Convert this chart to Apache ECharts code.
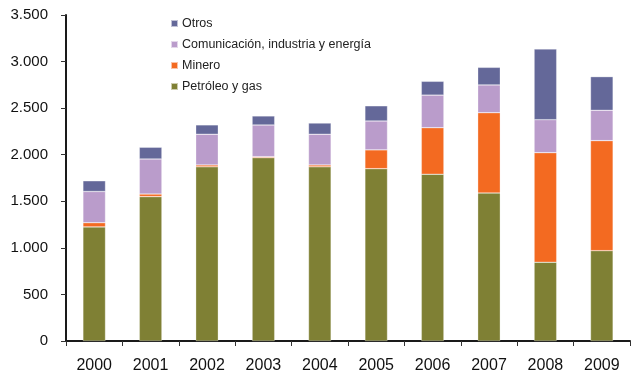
<!DOCTYPE html>
<html>
<head>
<meta charset="utf-8">
<script src="https://cdn.jsdelivr.net/npm/echarts@6/dist/echarts.min.js"></script>
<style>
  html, body { margin: 0; padding: 0; background: #fff; }
  #chart { width: 631px; height: 374px; }
</style>
</head>
<body>
<div id="chart"></div>
<script>
// Years on the category axis
const years = ['2000', '2001', '2002', '2003', '2004', '2005', '2006', '2007', '2008', '2009'];

// Stacked components per year
const petroleoGas = [1225, 1550, 1870, 1968, 1870, 1850, 1790, 1589, 845, 970];
const minero      = [45, 28, 20, 11, 20, 202, 500, 862, 1177, 1181];
const comunicacion = [335, 376, 330, 340, 330, 310, 350, 298, 354, 326];
const otros       = [115, 126, 100, 97, 120, 163, 148, 189, 759, 361];

// Value axis ticks
const yTicks = [0, 500, 1000, 1500, 2000, 2500, 3000, 3500];

const names = {
  petro: 'Petróleo y gas',
  min: 'Minero',
  com: 'Comunicación, industria y energía',
  otros: 'Otros'
};

const FONT = 'Liberation Sans, Arial, sans-serif';
const fmt = v => String(v).replace(/\B(?=(\d{3})+(?!\d))/g, '.');

function bar(name, data, color) {
  return {
    name: name,
    type: 'bar',
    stack: 'total',
    data: data,
    barWidth: '40%',
    itemStyle: { color: color, borderColor: 'rgba(255,255,255,0.6)', borderWidth: 0.5 },
    emphasis: { disabled: true }
  };
}

const chart = echarts.init(document.getElementById('chart'), null, { renderer: 'canvas' });
chart.setOption({
  animation: false,
  backgroundColor: '#ffffff',
  textStyle: { fontFamily: FONT },
  grid: { left: 66, right: 1, top: 15, bottom: 33, containLabel: false },
  legend: {
    orient: 'vertical',
    left: 165,
    top: 12,
    itemWidth: 7,
    itemHeight: 7,
    itemGap: 8,
    icon: 'rect',
    textStyle: { fontFamily: FONT, fontSize: 12.5, color: '#222', padding: [0, 0, 0, -1] },
    data: [names.otros, names.com, names.min, names.petro]
  },
  xAxis: {
    type: 'category',
    data: years,
    boundaryGap: true,
    axisLine: { lineStyle: { color: '#1a1a1a', width: 2 } },
    axisTick: { show: true, alignWithLabel: false, length: 5, lineStyle: { color: '#333', width: 1 } },
    axisLabel: { fontFamily: FONT, fontSize: 16, color: '#111', margin: 17 }
  },
  yAxis: {
    type: 'value',
    min: yTicks[0],
    max: yTicks[yTicks.length - 1],
    interval: 500,
    splitLine: { show: false },
    axisLine: { show: true, lineStyle: { color: '#1a1a1a', width: 2 } },
    axisTick: { show: true, length: 5, lineStyle: { color: '#333', width: 1 } },
    axisLabel: { fontFamily: FONT, fontSize: 15, color: '#111', margin: 18, formatter: fmt }
  },
  series: [
    bar(names.petro, petroleoGas, '#7f8034'),
    bar(names.min, minero, '#f36a21'),
    bar(names.com, comunicacion, '#ba9ccb'),
    bar(names.otros, otros, '#646899')
  ]
});
</script>
</body>
</html>
